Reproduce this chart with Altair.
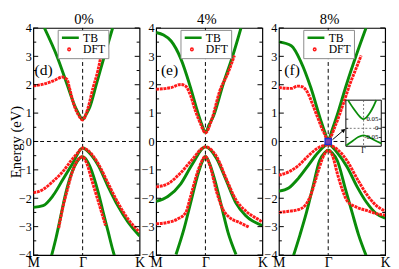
import altair as alt
import pandas as pd

GAMMA = 0.464
PANEL_TITLES = ["0%", "4%", "8%"]
PANEL_TAGS = ["(d)", "(e)", "(f)"]
TAG_X = [0.096, 0.126, 0.124]
TAG_Y = [2.52, 2.52, 2.52]
LEGEND_LABELS = ["TB", "DFT"]
K_TICKS = [0, GAMMA, 1]
MAJOR_TICKS = [-4, -3, -2, -1, 0, 1, 2, 3, 4]
MINOR_TICKS = [-3.5, -2.5, -1.5, -0.5, 0.5, 1.5, 2.5, 3.5]

# ---- 0% ----
TB0_C_X = [0.104, 0.226, 0.318, 0.394, 0.425, 0.464, 0.502, 0.532, 0.593, 0.670, 0.746]
TB0_C_Y = [4.00, 2.97, 2.01, 1.22, 0.99, 0.77, 0.99, 1.22, 2.01, 3.03, 3.99]
DFT0_C_X = [0.000, 0.104, 0.196, 0.272, 0.318, 0.339, 0.379, 0.425, 0.464, 0.508, 0.563, 0.608, 0.636]
DFT0_C_Y = [1.96, 2.03, 2.15, 2.27, 2.18, 1.90, 1.33, 0.93, 0.76, 1.10, 1.90, 2.50, 3.00]
TB0_V1_X = [0.000, 0.092, 0.183, 0.275, 0.367, 0.464, 0.550, 0.612, 0.703, 0.795, 0.887, 1.000]
TB0_V1_Y = [-2.32, -2.26, -1.92, -1.36, -0.79, -0.23, -0.50, -0.85, -1.58, -2.26, -2.82, -3.33]
DFT0_V1_X = [0.000, 0.092, 0.183, 0.275, 0.367, 0.413, 0.464, 0.550, 0.612, 0.703, 0.795, 0.887, 1.000]
DFT0_V1_Y = [-1.81, -1.69, -1.41, -1.07, -0.62, -0.42, -0.23, -0.45, -0.79, -1.47, -2.15, -2.71, -3.20]
TB0_V2_X = [0.168, 0.214, 0.260, 0.306, 0.367, 0.413, 0.464, 0.505, 0.535, 0.612, 0.657, 0.703, 0.749, 0.765]
TB0_V2_Y = [-4.07, -3.39, -2.60, -1.81, -1.05, -0.70, -0.54, -0.68, -0.90, -1.81, -2.49, -3.16, -3.84, -4.05]
DFT0_V2_X = [0.239, 0.275, 0.321, 0.367, 0.413, 0.464, 0.505, 0.550, 0.596, 0.642, 0.679]
DFT0_V2_Y = [-3.05, -2.37, -1.69, -1.07, -0.68, -0.54, -0.79, -1.36, -1.92, -2.49, -2.96]

# ---- 4% ----
TB4_C_X = [0.000, 0.070, 0.141, 0.232, 0.324, 0.385, 0.430, 0.464, 0.500, 0.538, 0.630, 0.722, 0.798]
TB4_C_Y = [3.84, 3.75, 3.54, 2.92, 1.90, 1.11, 0.60, 0.32, 0.60, 0.88, 2.01, 3.03, 3.99]
DFT4_C_X = [0.000, 0.141, 0.232, 0.278, 0.324, 0.367, 0.415, 0.464, 0.523, 0.600, 0.676, 0.737]
DFT4_C_Y = [1.84, 1.90, 2.01, 1.95, 1.62, 1.11, 0.65, 0.30, 0.77, 1.79, 2.41, 3.03]
TB4_V1_X = [0.000, 0.110, 0.232, 0.339, 0.464, 0.569, 0.661, 0.752, 0.844, 1.000]
TB4_V1_Y = [-2.11, -1.94, -1.49, -0.81, -0.19, -0.60, -1.38, -2.17, -2.62, -2.96]
DFT4_V1_X = [0.000, 0.110, 0.232, 0.339, 0.464, 0.569, 0.661, 0.752, 0.844, 0.980, 1.000]
DFT4_V1_Y = [-1.60, -1.49, -1.10, -0.64, -0.19, -0.53, -1.32, -2.06, -2.45, -2.79, -2.84]
TB4_V2_X = [0.187, 0.263, 0.324, 0.385, 0.430, 0.464, 0.500, 0.554, 0.615, 0.676, 0.752]
TB4_V2_Y = [-3.98, -3.07, -2.17, -1.27, -0.75, -0.53, -0.75, -1.38, -2.28, -3.19, -3.98]
DFT4_V2_X = [0.000, 0.110, 0.202, 0.278, 0.324, 0.370, 0.416, 0.464, 0.507, 0.569, 0.630, 0.691, 0.783, 0.874]
DFT4_V2_Y = [-2.90, -2.85, -2.73, -2.51, -1.94, -1.32, -0.81, -0.53, -0.86, -1.77, -2.40, -2.68, -2.85, -3.02]

# ---- 8% ----
TB8_C_X = [0.000, 0.116, 0.208, 0.300, 0.392, 0.430, 0.464, 0.500, 0.544, 0.636, 0.727, 0.819]
TB8_C_Y = [3.51, 3.37, 2.80, 1.90, 0.77, 0.35, 0.05, 0.40, 0.88, 2.01, 3.03, 3.99]
DFT8_C_X = [0.000, 0.116, 0.177, 0.223, 0.269, 0.315, 0.361, 0.422, 0.464, 0.529, 0.606, 0.667, 0.727, 0.774]
DFT8_C_Y = [1.90, 1.87, 1.95, 1.92, 1.73, 1.33, 0.88, 0.32, 0.05, 0.54, 1.33, 2.01, 2.58, 3.03]
TB8_V1_X = [0.000, 0.092, 0.183, 0.275, 0.367, 0.464, 0.550, 0.642, 0.734, 0.826, 0.917, 1.000]
TB8_V1_Y = [-1.75, -1.64, -1.30, -0.85, -0.40, -0.10, -0.40, -0.90, -1.58, -2.15, -2.54, -2.70]
DFT8_V1_X = [0.000, 0.092, 0.183, 0.275, 0.367, 0.464, 0.550, 0.642, 0.734, 0.826, 0.917, 1.000]
DFT8_V1_Y = [-1.19, -1.07, -0.85, -0.51, -0.23, -0.12, -0.28, -0.68, -1.30, -1.86, -2.26, -2.45]
TB8_V2_X = [0.138, 0.199, 0.260, 0.321, 0.382, 0.430, 0.464, 0.500, 0.550, 0.627, 0.688, 0.749, 0.820]
TB8_V2_Y = [-4.01, -3.28, -2.49, -1.58, -0.68, -0.40, -0.30, -0.40, -0.68, -1.69, -2.49, -3.28, -4.01]
DFT8_V2_X = [0.000, 0.092, 0.183, 0.245, 0.290, 0.336, 0.382, 0.428, 0.464, 0.505, 0.550, 0.596, 0.642, 0.734, 0.826, 0.917, 1.000]
DFT8_V2_Y = [-2.50, -2.46, -2.40, -2.26, -1.98, -1.47, -0.90, -0.45, -0.32, -0.51, -1.13, -1.69, -2.09, -2.32, -2.43, -2.54, -2.60]

# ---- inset (8%) ----
INSET_UP_K = [-0.88, -0.60, -0.35, -0.15, 0.00, 0.15, 0.35, 0.55, 0.72]
INSET_UP_E = [0.154, 0.112, 0.080, 0.058, 0.050, 0.059, 0.084, 0.118, 0.154]
INSET_LO_K = [-0.98, -0.60, -0.30, 0.00, 0.30, 0.60, 1.00]
INSET_LO_E = [-0.094, -0.068, -0.047, -0.038, -0.047, -0.064, -0.082]
INSET_TICKS = [0.05, 0.0, -0.05]
INSET_TICK_LABELS = ["0.05", "0", "-0.05"]
BOX_X = [GAMMA]
BOX_Y = [0.0]

W, H = 109, 233
GREEN = "#0a8c0a"
RED = "#ff1a1a"
SERIF = "Liberation Serif"

TB_PATH = "M-1,0H1"
DFT_PATH = "M-0.24,0a0.09,0.09 0 1,0 0.18,0a0.09,0.09 0 1,0 -0.18,0"

xscale = alt.Scale(domain=[0, 1], nice=False, zero=False)
yscale = alt.Scale(domain=[-4, 4], nice=False, zero=False)


def series_df(spec):
    rows = []
    for name, xs, ys in spec:
        for i, (x, y) in enumerate(zip(xs, ys)):
            rows.append({"band": name, "i": i, "x": x, "y": y})
    return pd.DataFrame(rows)


def make_axes(idx):
    xaxis = alt.Axis(values=K_TICKS, ticks=False, domain=False, grid=False,
                     labelExpr="datum.value < 0.1 ? 'M' : (datum.value > 0.9 ? 'K' : 'Γ')",
                     labelFont=SERIF, labelFontSize=14, labelColor="black", labelPadding=1,
                     labelFlush=False, title=None)
    if idx == 0:
        yaxis = alt.Axis(values=MAJOR_TICKS, ticks=False, domain=False, grid=False,
                         labelFont=SERIF, labelFontSize=12.5, labelColor="black", labelPadding=2,
                         labelFlush=False, labelOverlap=False,
                         title="Energy (eV)", titleFont=SERIF, titleFontSize=15, titleFontWeight="normal",
                         titleColor="black", titleX=-10, titleBaseline="bottom", titleAngle=270)
    else:
        yaxis = alt.Axis(values=MAJOR_TICKS, ticks=False, domain=False, grid=False,
                         labelFont=SERIF, labelFontSize=12.5, labelColor="black", labelPadding=2,
                         labelFlush=False, labelOverlap=False, title=None)
    return xaxis, yaxis


def panel(idx, tb, dft, extra=None):
    xaxis, yaxis = make_axes(idx)

    def X(f):
        return alt.X(f, type="quantitative", scale=xscale, axis=xaxis)

    def Y(f):
        return alt.Y(f, type="quantitative", scale=yscale, axis=yaxis)

    def ticks(vals, x1, x2):
        return alt.Chart(pd.DataFrame({"y": vals})).mark_rule(color="black", strokeWidth=1).encode(
            y=Y("y"), x=alt.value(x1), x2=alt.value(x2))

    zero = alt.Chart(pd.DataFrame({"y": [0]})).mark_rule(color="black", strokeWidth=1, strokeDash=[4, 3]).encode(
        y=Y("y"))
    gam = alt.Chart(pd.DataFrame({"x": [GAMMA]})).mark_rule(color="black", strokeWidth=1, strokeDash=[4, 3]).encode(
        x=X("x"))
    tb_layer = alt.Chart(series_df(tb)).mark_line(color=GREEN, strokeWidth=3, clip=True, interpolate="monotone").encode(
        x=X("x"), y=Y("y"), detail="band:N", order="i:Q")
    dft_layer = alt.Chart(series_df(dft)).mark_line(color=RED, strokeWidth=3, strokeDash=[3, 0.8], clip=True,
                                                    interpolate="monotone").encode(
        x=X("x"), y=Y("y"), detail="band:N", order="i:Q")
    leg = alt.Legend(title=None, orient="none", legendX=25, legendY=2, padding=3,
                     strokeColor="#8a8a8a", fillColor="white", labelFont=SERIF, labelFontSize=12,
                     labelColor="black", symbolStrokeWidth=2.6, symbolSize=300, symbolOpacity=1,
                     clipHeight=10, rowPadding=0, labelOffset=3)
    leg_layer = alt.Chart(pd.DataFrame({"src": LEGEND_LABELS})).mark_point(opacity=0, filled=False).encode(
        color=alt.Color("src:N", scale=alt.Scale(domain=LEGEND_LABELS, range=[GREEN, RED]), legend=leg),
        shape=alt.Shape("src:N", scale=alt.Scale(domain=LEGEND_LABELS, range=[TB_PATH, DFT_PATH]), legend=leg))
    tag = alt.Chart(pd.DataFrame({"x": [TAG_X[idx]], "y": [TAG_Y[idx]], "t": [PANEL_TAGS[idx]]})).mark_text(
        font=SERIF, fontSize=16, align="center", baseline="middle", color="black").encode(
        x=X("x"), y=Y("y"), text="t:N")
    title = alt.Chart(pd.DataFrame({"t": [PANEL_TITLES[idx]]})).mark_text(
        font=SERIF, fontSize=15, align="center", baseline="alphabetic", color="black").encode(
        x=alt.value(52), y=alt.value(-4), text="t:N")
    layers = [zero, gam, tb_layer, dft_layer,
              ticks(MAJOR_TICKS, 0, 5), ticks(MINOR_TICKS, 0, 3),
              ticks(MAJOR_TICKS, W, W - 5), ticks(MINOR_TICKS, W, W - 3),
              leg_layer, tag, title]
    if extra:
        layers += [e(X, Y) for e in extra]
    return alt.layer(*layers)


p0 = panel(0, [("c", TB0_C_X, TB0_C_Y), ("v1", TB0_V1_X, TB0_V1_Y), ("v2", TB0_V2_X, TB0_V2_Y)],
           [("c", DFT0_C_X, DFT0_C_Y), ("v1", DFT0_V1_X, DFT0_V1_Y), ("v2", DFT0_V2_X, DFT0_V2_Y)]
           ).properties(width=W, height=H)
p1 = panel(1, [("c", TB4_C_X, TB4_C_Y), ("v1", TB4_V1_X, TB4_V1_Y), ("v2", TB4_V2_X, TB4_V2_Y)],
           [("c", DFT4_C_X, DFT4_C_Y), ("v1", DFT4_V1_X, DFT4_V1_Y), ("v2", DFT4_V2_X, DFT4_V2_Y)]
           ).properties(width=W, height=H)

ax0, ay0, ax1, ay1 = 55, 0.492 * H, 67, 0.448 * H


def box_layer(X, Y):
    return alt.Chart(pd.DataFrame({"x": BOX_X, "y": BOX_Y})).mark_point(
        shape="square", size=40, filled=True, fill="#7a3fb0", stroke="#1f2fd0", strokeWidth=1.5, opacity=1).encode(
        x=X("x"), y=Y("y"))


def arrow_line(X, Y):
    return alt.Chart(pd.DataFrame({"a": [0]})).mark_rule(color="black", strokeWidth=1).encode(
        x=alt.value(ax0), y=alt.value(ay0), x2=alt.value(ax1), y2=alt.value(ay1))


def arrow_head(X, Y):
    return alt.Chart(pd.DataFrame({"a": [0]})).mark_point(shape="triangle", size=22, filled=True, color="black",
                                                          angle=52, opacity=1).encode(
        x=alt.value(ax1 - 1), y=alt.value(ay1 + 1))


main2 = panel(2, [("c", TB8_C_X, TB8_C_Y), ("v1", TB8_V1_X, TB8_V1_Y), ("v2", TB8_V2_X, TB8_V2_Y)],
              [("c", DFT8_C_X, DFT8_C_Y), ("v1", DFT8_V1_X, DFT8_V1_Y), ("v2", DFT8_V2_X, DFT8_V2_Y)],
              extra=[box_layer, arrow_line, arrow_head])

IX0, IX1 = 68.7, 105.0
IY0, IY1 = 0.318 * H, 0.521 * H
ix = alt.Scale(domain=[-1, 1], range=[IX0, IX1], nice=False, zero=False)
iy = alt.Scale(domain=[-0.098, 0.154], range=[IY1, IY0], nice=False, zero=False)

frame = alt.Chart(pd.DataFrame({"a": [0]})).mark_rect(fill="white", stroke="black", strokeWidth=1).encode(
    x=alt.value(IX0), x2=alt.value(IX1), y=alt.value(IY0), y2=alt.value(IY1))
in_k0 = alt.Chart(pd.DataFrame({"k": [0.0]})).mark_rule(color="#555", strokeWidth=0.8, strokeDash=[2, 2]).encode(
    x=alt.X("k:Q", scale=ix, axis=None), y=alt.value(IY0), y2=alt.value(IY1))
in_e0 = alt.Chart(pd.DataFrame({"e": [0.0]})).mark_rule(color="#555", strokeWidth=0.8, strokeDash=[2, 2]).encode(
    y=alt.Y("e:Q", scale=iy, axis=None), x=alt.value(IX0), x2=alt.value(IX1))
in_tl = alt.Chart(pd.DataFrame({"e": INSET_TICKS})).mark_rule(color="black", strokeWidth=0.8).encode(
    y=alt.Y("e:Q", scale=iy, axis=None), x=alt.value(IX0), x2=alt.value(IX0 + 2.5))
in_tr = alt.Chart(pd.DataFrame({"e": INSET_TICKS})).mark_rule(color="black", strokeWidth=0.8).encode(
    y=alt.Y("e:Q", scale=iy, axis=None), x=alt.value(IX1), x2=alt.value(IX1 - 2.5))
in_bands = alt.Chart(series_df([("u", INSET_UP_K, INSET_UP_E), ("l", INSET_LO_K, INSET_LO_E)])).mark_line(
    color=GREEN, strokeWidth=1.8, interpolate="monotone").encode(
    x=alt.X("x:Q", scale=ix, axis=None), y=alt.Y("y:Q", scale=iy, axis=None), detail="band:N", order="i:Q")
in_lab = alt.Chart(pd.DataFrame({"e": INSET_TICKS, "t": INSET_TICK_LABELS})).mark_text(
    font=SERIF, fontSize=7, align="right", baseline="middle", color="black").encode(
    y=alt.Y("e:Q", scale=iy, axis=None), x=alt.value(IX1 - 3), text="t:N")
in_g = alt.Chart(pd.DataFrame({"k": [0.0], "t": ["Γ"]})).mark_text(
    font=SERIF, fontSize=8, align="center", baseline="top", color="black").encode(
    x=alt.X("k:Q", scale=ix, axis=None), y=alt.value(IY1 + 1), text="t:N")
inset = alt.layer(frame, in_k0, in_e0, in_tl, in_tr, in_bands, in_lab, in_g)

p2 = alt.layer(main2, inset).resolve_scale(x="independent", y="independent").properties(width=W, height=H)

chart = alt.hconcat(p0, p1, p2, spacing=17, bounds="flush").resolve_scale(
    x="independent", y="independent", color="independent", shape="independent").configure_view(
    stroke="black", strokeWidth=1.2).properties(padding={"left": 0, "top": 0, "right": 0, "bottom": 0})

chart.save("out.html", embed_options={"renderer": "svg", "actions": False})
